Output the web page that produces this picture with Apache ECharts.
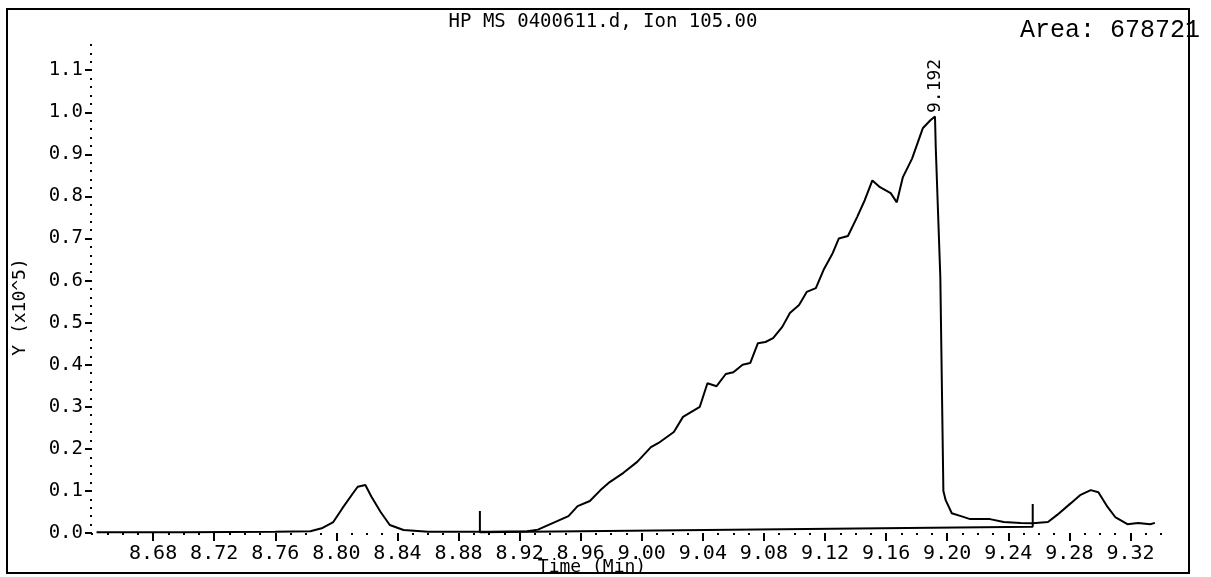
<!DOCTYPE html>
<html>
<head>
<meta charset="utf-8">
<title>HP MS 0400611.d, Ion 105.00</title>
<script src="https://cdn.jsdelivr.net/npm/echarts@6/dist/echarts.min.js"></script>
<style>
	html, body { margin: 0; padding: 0; background: #fff; }
	#chart { width: 1211px; height: 577px; }
</style>
</head>
<body>
<div id="chart"></div>
<script>
// retention time (min) and abundance (x10^5)
var times = [8.643, 8.700, 8.760, 8.783, 8.791, 8.798, 8.804, 8.811, 8.814, 8.819,
	8.823, 8.829, 8.835, 8.844, 8.860, 8.900, 8.925, 8.932, 8.942, 8.952,
	8.958, 8.966, 8.973, 8.979, 8.988, 8.997, 9.006, 9.011, 9.021, 9.027,
	9.038, 9.043, 9.049, 9.055, 9.060, 9.066, 9.071, 9.076, 9.081, 9.086,
	9.092, 9.097, 9.103, 9.108, 9.114, 9.119, 9.125, 9.129, 9.135, 9.141,
	9.146, 9.151, 9.156, 9.163, 9.167, 9.171, 9.177, 9.184, 9.189, 9.192,
	9.1925, 9.1955, 9.1975, 9.199, 9.203, 9.209, 9.215, 9.228, 9.237, 9.248,
	9.256, 9.266, 9.272, 9.281, 9.287, 9.294, 9.299, 9.305, 9.310, 9.318,
	9.325, 9.333, 9.336];
var abundance = [0.002, 0.002, 0.003, 0.004, 0.012, 0.026, 0.059, 0.095, 0.110, 0.114,
	0.086, 0.050, 0.019, 0.007, 0.003, 0.003, 0.004, 0.008, 0.024, 0.040,
	0.064, 0.076, 0.102, 0.121, 0.143, 0.169, 0.204, 0.214, 0.240, 0.276,
	0.300, 0.356, 0.349, 0.378, 0.382, 0.400, 0.404, 0.451, 0.454, 0.463,
	0.490, 0.523, 0.542, 0.573, 0.582, 0.625, 0.665, 0.700, 0.706, 0.751,
	0.791, 0.838, 0.822, 0.808, 0.786, 0.846, 0.890, 0.962, 0.981, 0.990,
	0.917, 0.608, 0.100, 0.078, 0.047, 0.040, 0.033, 0.033, 0.026, 0.024,
	0.023, 0.026, 0.043, 0.071, 0.090, 0.102, 0.097, 0.062, 0.038, 0.021,
	0.024, 0.021, 0.024];

// integration start / end markers and baseline
var baseTimes = [8.894, 8.894, 9.256, 9.256];
var baseValues = [0.052, 0.002, 0.015, 0.069];

var peakTime = 9.192;
var peakValue = 0.990;
var areaText = 'Area: 678721';

var xTicks = [8.68, 8.72, 8.76, 8.80, 8.84, 8.88, 8.92, 8.96, 9.00, 9.04, 9.08, 9.12, 9.16, 9.20, 9.24, 9.28, 9.32];
var yTicks = [0.0, 0.1, 0.2, 0.3, 0.4, 0.5, 0.6, 0.7, 0.8, 0.9, 1.0, 1.1];

var chartInfo = {
	init: function(){
		this.setChart();
	},
	chart: null,
	option: null,
	setChart: function(){
		var myChart = echarts.init(document.getElementById('chart'));
		var font = 'DejaVu Sans Mono';
		var trace = [], base = [];
		for (var i = 0; i < times.length; i++) {
			trace.push([times[i], abundance[i]]);
		}
		for (var j = 0; j < baseTimes.length; j++) {
			base.push([baseTimes[j], baseValues[j]]);
		}
		var option = {
			backgroundColor: '#fff',
			animation: false,
			title: {
				text: 'HP MS 0400611.d, Ion 105.00',
				left: 598,
				top: 8,
				textAlign: 'center',
				textStyle: { fontFamily: font, fontSize: 19, fontWeight: 'normal', color: '#000' }
			},
			grid: { left: 92, right: 50, top: 45, bottom: 44, containLabel: false },
			xAxis: [
				{
					type: 'value',
					min: 8.64,
					max: 9.34,
					interval: 0.04,
					position: 'bottom',
					axisLine: { show: false },
					splitLine: { show: false },
					axisTick: {
						show: true,
						length: 8,
						customValues: xTicks,
						lineStyle: { color: '#000', width: 2 }
					},
					axisLabel: {
						customValues: xTicks,
						margin: 11,
						fontFamily: font,
						fontSize: 20,
						color: '#000',
						formatter: function(v){ return v.toFixed(2); }
					}
				},
				{
					// the dotted minor ticks
					type: 'value',
					min: 8.64,
					max: 9.34,
					interval: 0.01,
					position: 'bottom',
					axisLine: { show: false },
					splitLine: { show: false },
					axisTick: { show: true, length: 2, lineStyle: { color: '#000', width: 2 } },
					axisLabel: { show: false }
				}
			],
			yAxis: [
				{
					type: 'value',
					min: 0,
					max: 1.16,
					interval: 0.1,
					position: 'left',
					axisLine: { show: false },
					splitLine: { show: false },
					axisTick: {
						show: true,
						length: 7,
						customValues: yTicks,
						lineStyle: { color: '#000', width: 2 }
					},
					axisLabel: {
						customValues: yTicks,
						margin: 9,
						fontFamily: font,
						fontSize: 19,
						color: '#000',
						formatter: function(v){ return v.toFixed(1); }
					}
				},
				{
					type: 'value',
					min: 0,
					max: 1.16,
					interval: 0.02,
					position: 'left',
					axisLine: { show: false },
					splitLine: { show: false },
					axisTick: { show: true, length: 2, lineStyle: { color: '#000', width: 2 } },
					axisLabel: { show: false }
				}
			],
			graphic: [
				{
					type: 'rect',
					shape: { x: 7, y: 9, width: 1182, height: 564 },
					style: { fill: null, stroke: '#000', lineWidth: 2 },
					silent: true
				},
				{
					type: 'text',
					x: 592, y: 567,
					z: 10,
					style: { text: 'Time (Min)', font: '18px "DejaVu Sans Mono"', fill: '#000', align: 'center', verticalAlign: 'middle' }
				},
				{
					type: 'text',
					x: 20, y: 307,
					rotation: Math.PI / 2,
					style: { text: 'Y (x10^5)', font: '18px "DejaVu Sans Mono"', fill: '#000', align: 'center', verticalAlign: 'middle' }
				},
				{
					type: 'text',
					x: 1020, y: 30,
					z: 10,
					style: { text: areaText, font: '25px "Liberation Mono"', fill: '#000', align: 'left', verticalAlign: 'middle' }
				}
			],
			series: [
				{
					name: 'Ion 105.00',
					type: 'line',
					xAxisIndex: 0,
					yAxisIndex: 0,
					data: trace,
					showSymbol: false,
					lineStyle: { color: '#000', width: 2 },
					markPoint: {
						symbol: 'circle',
						symbolSize: 1,
						itemStyle: { color: 'rgba(0,0,0,0)' },
						label: {
							show: true,
							position: 'top',
							distance: 3,
							rotate: 90,
							align: 'left',
							verticalAlign: 'middle',
							fontFamily: font,
							fontSize: 18,
							color: '#000',
							formatter: function(){ return peakTime.toFixed(3); }
						},
						data: [{ coord: [peakTime, peakValue] }]
					}
				},
				{
					name: 'baseline',
					type: 'line',
					xAxisIndex: 0,
					yAxisIndex: 0,
					data: base,
					showSymbol: false,
					lineStyle: { color: '#000', width: 2 }
				}
			]
		};
		this.option = option;
		this.chart = myChart;
		myChart.setOption(option);
	}
};
chartInfo.init();
</script>
</body>
</html>
